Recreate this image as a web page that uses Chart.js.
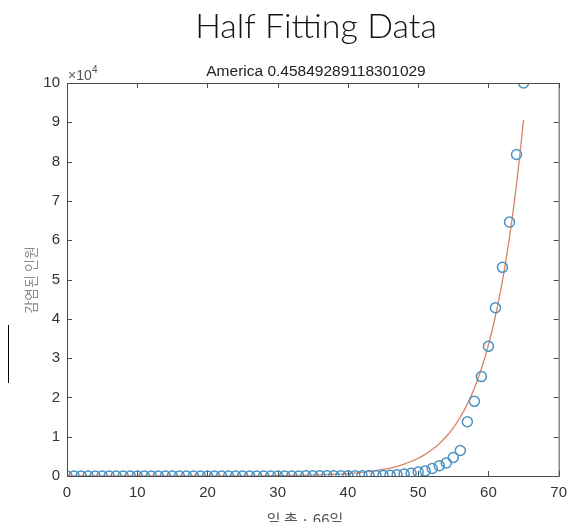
<!DOCTYPE html>
<html>
<head>
<meta charset="utf-8">
<script src="https://cdn.jsdelivr.net/npm/chart.js@4.4.0/dist/chart.umd.min.js"></script>
<style>
    html, body { margin: 0; padding: 0; background: #fff; }
    #wrap { width: 575px; height: 522px; position: relative; }
</style>
</head>
<body>
<div id="wrap"><canvas id="mainChart" width="575" height="522"></canvas></div>
<script>
// 数据
const days = [
    0, 1, 2, 3, 4, 5, 6, 7, 8, 9,
    10, 11, 12, 13, 14, 15, 16, 17, 18, 19,
    20, 21, 22, 23, 24, 25, 26, 27, 28, 29,
    30, 31, 32, 33, 34, 35, 36, 37, 38, 39,
    40, 41, 42, 43, 44, 45, 46, 47, 48, 49,
    50, 51, 52, 53, 54, 55, 56, 57, 58, 59,
    60, 61, 62, 63, 64, 65
];
// 感染人数 (实测)
const infected = [
    1, 1, 2, 2, 5, 5, 5, 5, 5, 6,
    8, 11, 11, 11, 12, 12, 12, 12, 12, 13,
    13, 15, 15, 15, 15, 15, 15, 15, 15, 15,
    15, 15, 15, 15, 35, 35, 35, 53, 57, 60,
    62, 70, 75, 100, 124, 158, 221, 319, 500, 700,
    1000, 1300, 1900, 2600, 3300, 4700, 6500, 13800, 19000, 25300,
    33000, 42800, 53100, 64600, 81800, 100000
];
// 拟合曲线
const fitted = [
    0, 0, 0, 0, 0, 1, 1, 1, 1, 1,
    2, 2, 2, 3, 3, 4, 5, 6, 7, 9,
    11, 14, 17, 20, 25, 30, 37, 45, 55, 68,
    83, 101, 123, 151, 184, 225, 275, 335, 410, 500,
    610, 750, 910, 1110, 1360, 1660, 2030, 2480, 3020, 3690,
    4510, 5510, 6730, 8220, 10040, 12260, 14980, 18290, 22340, 27290,
    33330, 40710, 49720, 60730, 74180, 90600
];
const xTicks = [0, 10, 20, 30, 40, 50, 60, 70];
const yTicks = [0, 1, 2, 3, 4, 5, 6, 7, 8, 9, 10];

const mainTitle = 'Half Fitting Data';
const subTitle = 'America 0.45849289118301029';
const xTitle = '일 총 · 66일';
const yTitle = '감염된 인원';

const axisColor = '#4d4d4d';

// 自定义绘制: 边框、刻度、标题
const decorPlugin = {
    id: 'decor',
    afterDraw(chart) {
        const ctx = chart.ctx;
        const area = chart.chartArea;
        const xs = chart.scales.x;
        const ys = chart.scales.y;
        ctx.save();

        // 边框
        ctx.strokeStyle = axisColor;
        ctx.lineWidth = 1;
        ctx.strokeRect(area.left + 0.5, area.top + 0.5, area.right - area.left, area.bottom - area.top);

        // 内向刻度
        ctx.beginPath();
        xTicks.forEach(v => {
            const px = Math.round(xs.getPixelForValue(v)) + 0.5;
            ctx.moveTo(px, area.bottom);
            ctx.lineTo(px, area.bottom - 5);
            ctx.moveTo(px, area.top);
            ctx.lineTo(px, area.top + 5);
        });
        yTicks.forEach(v => {
            const py = Math.round(ys.getPixelForValue(v * 10000)) + 0.5;
            ctx.moveTo(area.left, py);
            ctx.lineTo(area.left + 5, py);
            ctx.moveTo(area.right, py);
            ctx.lineTo(area.right - 5, py);
        });
        ctx.stroke();

        // 主标题
        ctx.fillStyle = '#111';
        ctx.font = '300 34px Lato, "Open Sans", sans-serif';
        ctx.textAlign = 'center';
        ctx.textBaseline = 'alphabetic';
        ctx.fillText(mainTitle, 316, 38);

        // 副标题
        ctx.fillStyle = '#222';
        ctx.font = '15.5px "Liberation Sans", Arial, sans-serif';
        ctx.fillText(subTitle, 316, 76);

        // ×10^4
        ctx.fillStyle = '#555';
        ctx.textAlign = 'left';
        ctx.font = '14px "Liberation Sans", Arial, sans-serif';
        ctx.fillText('×10', 68, 80);
        ctx.font = '10px "Liberation Sans", Arial, sans-serif';
        ctx.fillText('4', 92, 73);

        // x轴标题
        ctx.fillStyle = '#555';
        ctx.textAlign = 'center';
        ctx.font = '15px "Noto Sans CJK KR", sans-serif';
        ctx.fillText(xTitle, 305, 525);

        // y轴标题
        ctx.save();
        ctx.translate(36, 280);
        ctx.rotate(-Math.PI / 2);
        ctx.fillStyle = '#8a8a8a';
        ctx.font = '14px "Noto Sans CJK KR", sans-serif';
        ctx.fillText(yTitle, 0, 0);
        ctx.restore();

        // 左侧竖线
        ctx.strokeStyle = '#000';
        ctx.beginPath();
        ctx.moveTo(8.5, 325);
        ctx.lineTo(8.5, 383);
        ctx.stroke();

        ctx.restore();
    }
};

const ctx = document.getElementById('mainChart').getContext('2d');
new Chart(ctx, {
    type: 'scatter',
    data: {
        datasets: [
            {
                label: 'fit',
                type: 'line',
                data: days.map((d, i) => ({ x: d, y: fitted[i] })),
                borderColor: 'rgba(210, 110, 75, 0.85)',
                borderWidth: 1.3,
                pointRadius: 0,
                tension: 0.3,
                fill: false,
                order: 2
            },
            {
                label: 'data',
                data: days.map((d, i) => ({ x: d, y: infected[i] })),
                borderColor: '#4a92c2',
                backgroundColor: 'rgba(0,0,0,0)',
                borderWidth: 1.5,
                pointRadius: 5,
                pointStyle: 'circle',
                order: 1
            }
        ]
    },
    options: {
        responsive: false,
        animation: false,
        maintainAspectRatio: false,
        layout: {
            padding: { top: 83, right: 11, left: 0, bottom: 0 }
        },
        plugins: {
            legend: { display: false },
            tooltip: { enabled: false }
        },
        scales: {
            x: {
                type: 'linear',
                min: 0,
                max: 70,
                afterBuildTicks(scale) {
                    scale.ticks = xTicks.map(v => ({ value: v }));
                },
                afterFit(scale) {
                    scale.height = 46;
                },
                grid: { display: false, drawTicks: false },
                border: { display: false },
                ticks: {
                    color: '#333',
                    font: { family: '"Liberation Sans", Arial, sans-serif', size: 15 },
                    padding: 8,
                    maxRotation: 0
                }
            },
            y: {
                type: 'linear',
                min: 0,
                max: 100000,
                afterBuildTicks(scale) {
                    scale.ticks = yTicks.map(v => ({ value: v * 10000 }));
                },
                afterFit(scale) {
                    scale.width = 67;
                },
                grid: { display: false, drawTicks: false },
                border: { display: false },
                ticks: {
                    color: '#333',
                    font: { family: '"Liberation Sans", Arial, sans-serif', size: 15 },
                    padding: 7,
                    callback: v => String(v / 10000)
                }
            }
        }
    },
    plugins: [decorPlugin]
});
</script>
</body>
</html>
